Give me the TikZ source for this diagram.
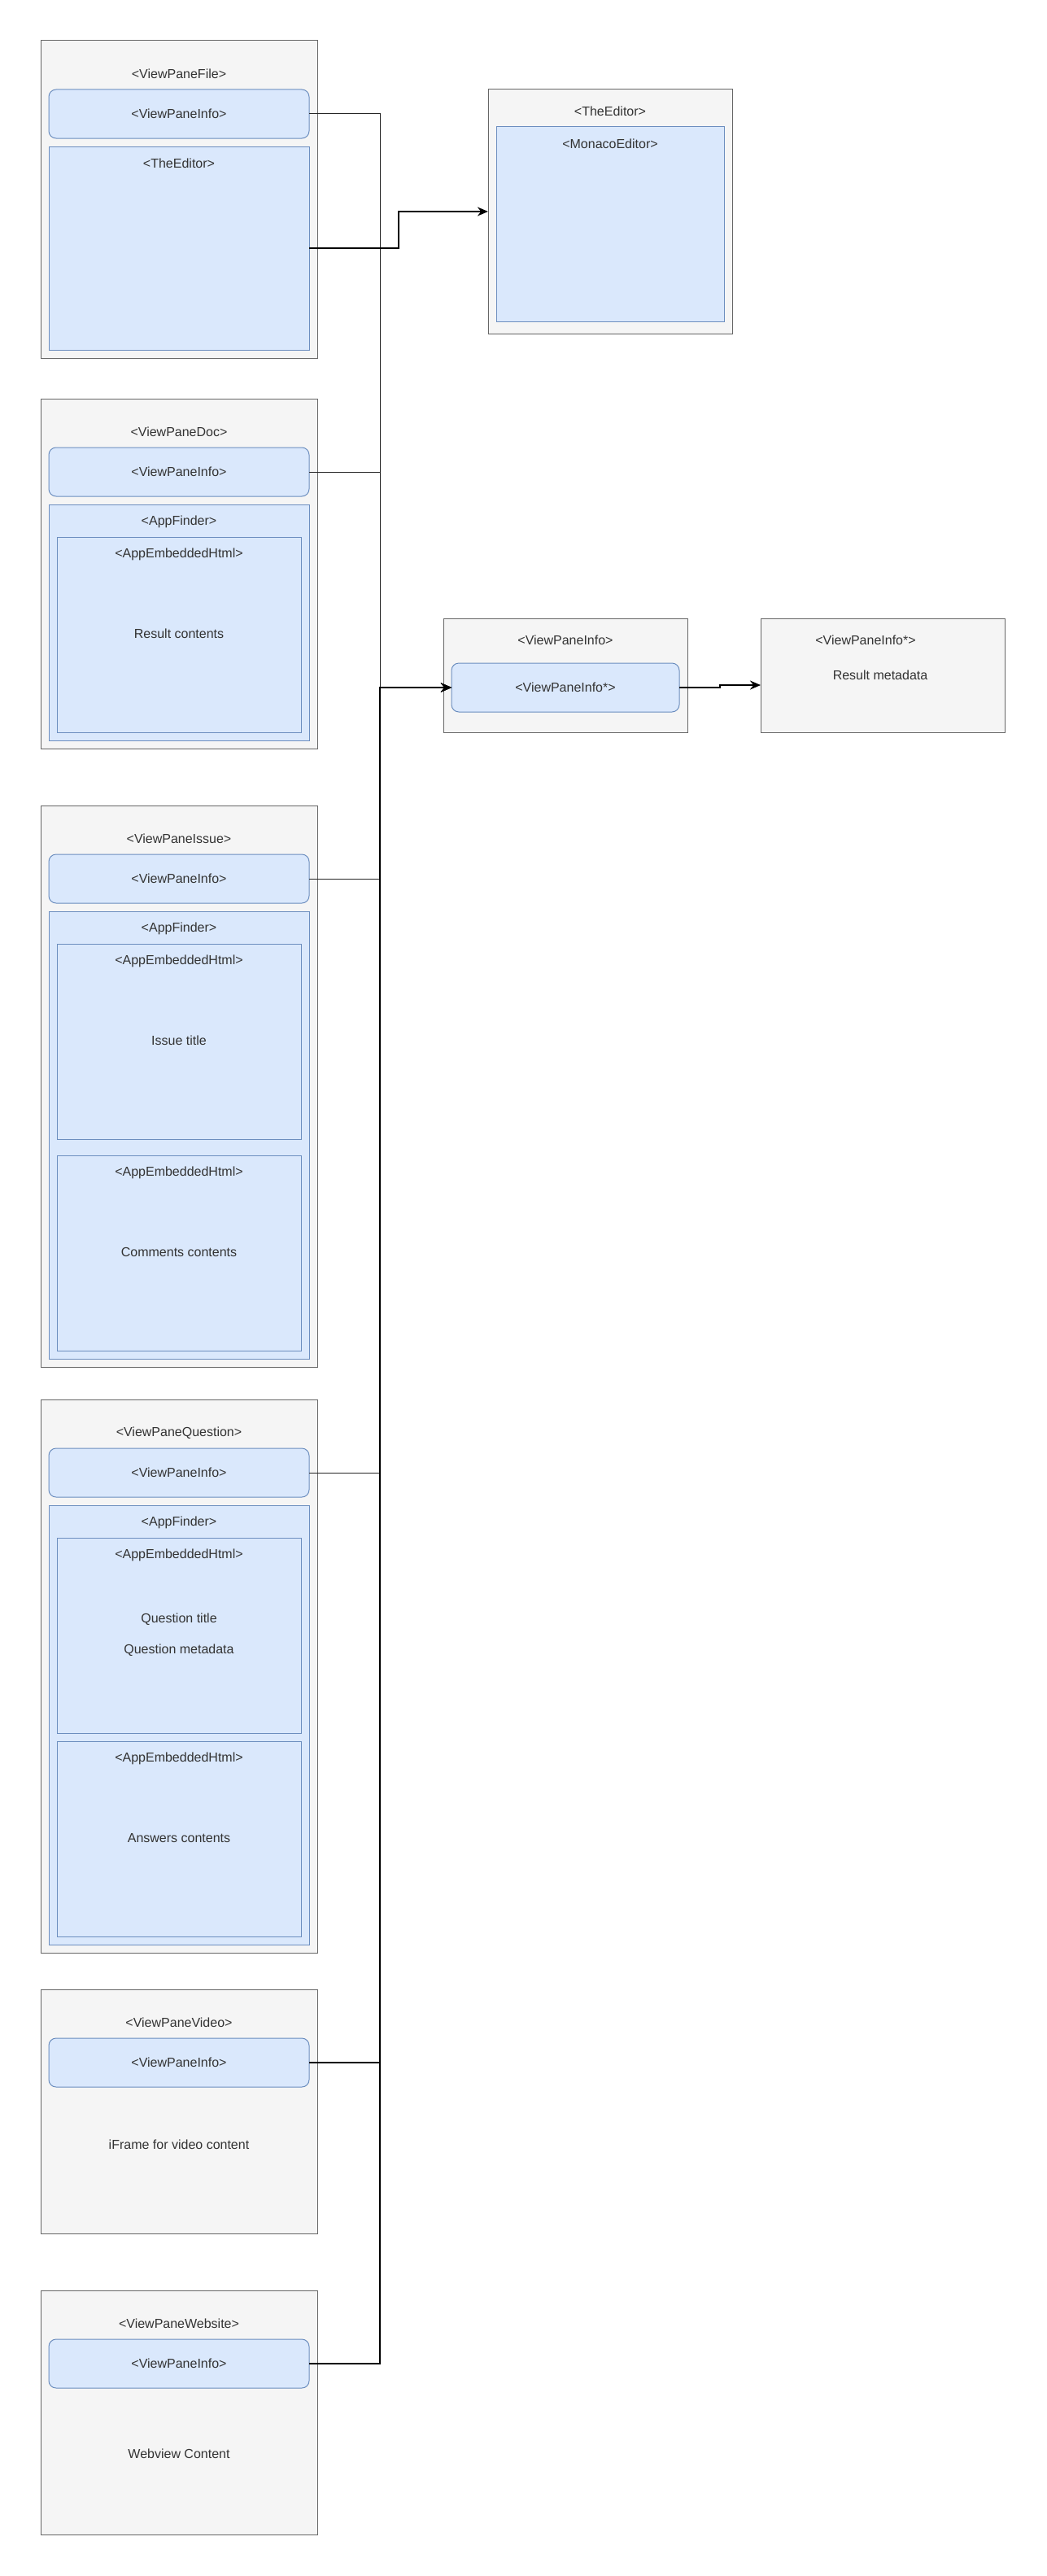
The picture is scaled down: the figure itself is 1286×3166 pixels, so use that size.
\documentclass[tikz,border=0pt]{standalone}
\usepackage{fontspec}
\setmainfont{Liberation Sans}
\usetikzlibrary{arrows.meta}
\definecolor{panefill}{HTML}{F5F5F5}
\definecolor{panedraw}{HTML}{666666}
\definecolor{bluefill}{HTML}{DAE8FC}
\definecolor{bluedraw}{HTML}{6C8EBF}
\definecolor{txtcol}{HTML}{333333}
\begin{document}
\begin{tikzpicture}[x=1pt,y=-1pt,
  pane/.style={draw=panedraw,fill=panefill,line width=1pt,inner sep=0pt,outer sep=0pt},
  bluebox/.style={draw=bluedraw,fill=bluefill,line width=1pt,inner sep=0pt,outer sep=0pt},
  infobox/.style={bluebox,rounded corners=9pt},
  lbl/.style={text=txtcol,font=\fontsize{16}{19}\selectfont,inner sep=0pt},
  linkthin/.style={draw=black!85,line width=1pt},
  linkthick/.style={draw=black,line width=2.4pt},
  tip/.style={-{Stealth[length=13pt,width=11pt]}}
]
\path[fill=white] (0,0) rectangle (1286,3166);
\useasboundingbox (0,0) rectangle (1286,3166);

% ---------- ViewPaneFile ----------
\node[pane,minimum width=340pt,minimum height=390pt] (file) at (220,245) {};
\node[lbl] (fileT) at (220,91) {<ViewPaneFile>};
\node[infobox,minimum width=320pt,minimum height=60pt] (fileinfo) at (220,140) {};
\node[lbl] (fileinfoT) at (220,140) {<ViewPaneInfo>};
\node[bluebox,minimum width=320pt,minimum height=250pt] (fileeditor) at (220,305) {};
\node[lbl] (fileeditorT) at (220,201) {<TheEditor>};

% ---------- TheEditor ----------
\node[pane,minimum width=300pt,minimum height=300pt] (editor2) at (750,260) {};
\node[lbl] (editor2T) at (750,137) {<TheEditor>};
\node[bluebox,minimum width=280pt,minimum height=240pt] (monaco) at (750,275) {};
\node[lbl] (monacoT) at (750,177) {<MonacoEditor>};

% ---------- ViewPaneDoc ----------
\node[pane,minimum width=340pt,minimum height=430pt] (doc) at (220,705) {};
\node[lbl] (docT) at (220,531) {<ViewPaneDoc>};
\node[infobox,minimum width=320pt,minimum height=60pt] (docinfo) at (220,580) {};
\node[lbl] (docinfoT) at (220,580) {<ViewPaneInfo>};
\node[bluebox,minimum width=320pt,minimum height=290pt] (docaf) at (220,765) {};
\node[lbl] (docafT) at (220,641) {<AppFinder>};
\node[bluebox,minimum width=300pt,minimum height=240pt] (docemb) at (220,780) {};
\node[lbl] (docembT) at (220,681) {<AppEmbeddedHtml>};
\node[lbl] (docembC) at (220,779) {Result contents};

% ---------- ViewPaneInfo (centre) ----------
\node[pane,minimum width=300pt,minimum height=140pt] (vpi) at (695,830) {};
\node[lbl] (vpiT) at (695,787) {<ViewPaneInfo>};
\node[infobox,minimum width=280pt,minimum height=60pt] (vpiinner) at (695,845) {};
\node[lbl] (vpiinnerT) at (695,845) {<ViewPaneInfo*>};

% ---------- ViewPaneInfo* (right) ----------
\node[pane,minimum width=300pt,minimum height=140pt] (rightbox) at (1085,830) {};
\node[lbl] (rightT) at (1064,787) {<ViewPaneInfo*>};
\node[lbl] (rightC) at (1082,830) {Result metadata};

% ---------- ViewPaneIssue ----------
\node[pane,minimum width=340pt,minimum height=690pt] (issue) at (220,1335) {};
\node[lbl] (issueT) at (220,1031) {<ViewPaneIssue>};
\node[infobox,minimum width=320pt,minimum height=60pt] (issueinfo) at (220,1080) {};
\node[lbl] (issueinfoT) at (220,1080) {<ViewPaneInfo>};
\node[bluebox,minimum width=320pt,minimum height=550pt] (issueaf) at (220,1395) {};
\node[lbl] (issueafT) at (220,1141) {<AppFinder>};
\node[bluebox,minimum width=300pt,minimum height=240pt] (issueemb1) at (220,1280) {};
\node[lbl] (issueemb1T) at (220,1181) {<AppEmbeddedHtml>};
\node[lbl] (issueemb1C) at (220,1279) {Issue title};
\node[bluebox,minimum width=300pt,minimum height=240pt] (issueemb2) at (220,1540) {};
\node[lbl] (issueemb2T) at (220,1441) {<AppEmbeddedHtml>};
\node[lbl] (issueemb2C) at (220,1539) {Comments contents};

% ---------- ViewPaneQuestion ----------
\node[pane,minimum width=340pt,minimum height=680pt] (quest) at (220,2060) {};
\node[lbl] (questT) at (220,1761) {<ViewPaneQuestion>};
\node[infobox,minimum width=320pt,minimum height=60pt] (questinfo) at (220,1810) {};
\node[lbl] (questinfoT) at (220,1810) {<ViewPaneInfo>};
\node[bluebox,minimum width=320pt,minimum height=540pt] (questaf) at (220,2120) {};
\node[lbl] (questafT) at (220,1871) {<AppFinder>};
\node[bluebox,minimum width=300pt,minimum height=240pt] (questemb1) at (220,2010) {};
\node[lbl] (questemb1T) at (220,1911) {<AppEmbeddedHtml>};
\node[lbl] (questemb1C) at (220,1990) {Question title};
\node[lbl] (questemb1D) at (220,2028) {Question metadata};
\node[bluebox,minimum width=300pt,minimum height=240pt] (questemb2) at (220,2260) {};
\node[lbl] (questemb2T) at (220,2161) {<AppEmbeddedHtml>};
\node[lbl] (questemb2C) at (220,2259) {Answers contents};

% ---------- ViewPaneVideo ----------
\node[pane,minimum width=340pt,minimum height=300pt] (video) at (220,2595) {};
\node[lbl] (videoT) at (220,2486) {<ViewPaneVideo>};
\node[infobox,minimum width=320pt,minimum height=60pt] (videoinfo) at (220,2535) {};
\node[lbl] (videoinfoT) at (220,2535) {<ViewPaneInfo>};
\node[lbl] (videoC) at (220,2636) {iFrame for video content};

% ---------- ViewPaneWebsite ----------
\node[pane,minimum width=340pt,minimum height=300pt] (web) at (220,2965) {};
\node[lbl] (webT) at (220,2856) {<ViewPaneWebsite>};
\node[infobox,minimum width=320pt,minimum height=60pt] (webinfo) at (220,2905) {};
\node[lbl] (webinfoT) at (220,2905) {<ViewPaneInfo>};
\node[lbl] (webC) at (220,3016) {Webview Content};

% ---------- connectors ----------
\coordinate (bus) at (467,0);
\coordinate (jog1) at (490,0);
\coordinate (jog2) at (885,842);

\draw[linkthin,tip] (fileinfo.east) -- (fileinfo.east -| bus) |- (vpiinner.west);
\draw[linkthin,tip] (docinfo.east) -- (docinfo.east -| bus) |- (vpiinner.west);
\draw[linkthin,tip] (issueinfo.east) -- (issueinfo.east -| bus) |- (vpiinner.west);
\draw[linkthin,tip] (questinfo.east) -- (questinfo.east -| bus) |- (vpiinner.west);
\draw[linkthick,tip] (videoinfo.east) -- (videoinfo.east -| bus) |- (vpiinner.west);
\draw[linkthick,tip] (webinfo.east) -- (webinfo.east -| bus) |- (vpiinner.west);

\draw[linkthick,tip] (fileeditor.east) -- (fileeditor.east -| jog1) |- (editor2.west);
\draw[linkthick,tip] (vpiinner.east) -- (vpiinner.east -| jog2) -- (jog2) -- (jog2 -| rightbox.west);
\end{tikzpicture}
\end{document}
